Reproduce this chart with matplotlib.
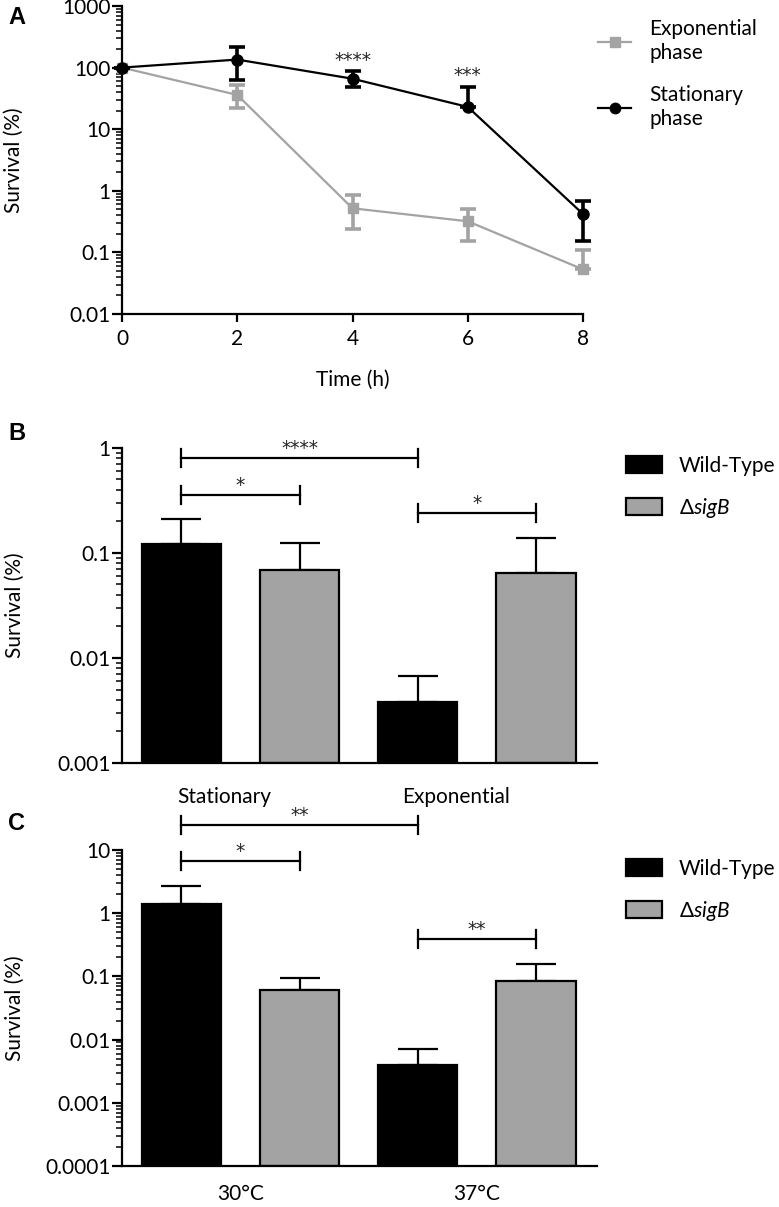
import numpy as np
import matplotlib
matplotlib.use("Agg")
from matplotlib import pyplot as plt
from matplotlib.patches import Patch
from matplotlib.lines import Line2D
from matplotlib.ticker import LogLocator, FuncFormatter, NullFormatter

plt.rcParams['font.family'] = ['Lato', 'DejaVu Sans']
plt.rcParams['font.size'] = 15
plt.rcParams['mathtext.fontset'] = 'custom'
plt.rcParams['mathtext.rm'] = 'Lato'
plt.rcParams['mathtext.it'] = 'Lato:italic'

# --- panel A: survival over time ---
time_h = [0, 2, 4, 6, 8]
stat_mean = [100, 135, 66, 23, 0.42]
stat_lo = [100, 62, 48, 23, 0.156]
stat_hi = [100, 214, 87, 49, 0.68]
expo_mean = [100, 36, 0.52, 0.32, 0.053]
expo_lo = [100, 22, 0.24, 0.156, 0.053]
expo_hi = [100, 53, 0.87, 0.51, 0.111]
stars_a = {4: '****', 6: '***'}

# --- panel B / C: bars ---
groups_b = ['Stationary', 'Exponential']
wt_b = [0.121, 0.0038]
wt_b_err = [0.209, 0.0067]
sig_b = [0.0684, 0.0645]
sig_b_err = [0.124, 0.137]
brackets_b = [(0, 2, 0.80, '****'), (0, 1, 0.355, '*'), (2, 3, 0.239, '*')]

groups_c = ['30°C', '37°C']
wt_c = [1.38, 0.0039]
wt_c_err = [2.7, 0.0072]
sig_c = [0.0605, 0.084]
sig_c_err = [0.095, 0.156]
brackets_c = [(0, 2, 24.9, '**'), (0, 1, 6.7, '*'), (2, 3, 0.385, '**')]

GRAY = '#a3a3a3'
LW = 1.6
FS = 15
STAR = dict(family='DejaVu Sans', fontsize=13.5, color='#222222')

fig = plt.figure(figsize=(7.79, 12.07), dpi=100)
W, H = 779, 1207


def px_axes(left, top, right, bottom):
    return fig.add_axes([left / W, 1 - bottom / H, (right - left) / W, (bottom - top) / H])


def style_log_axis(ax):
    for s in ['top', 'right']:
        ax.spines[s].set_visible(False)
    for s in ['left', 'bottom']:
        ax.spines[s].set_linewidth(LW)
    ax.set_yscale('log')
    ax.yaxis.set_major_locator(LogLocator(base=10, numticks=20))
    ax.yaxis.set_minor_locator(LogLocator(base=10, subs=np.arange(2, 10), numticks=20))
    ax.yaxis.set_major_formatter(FuncFormatter(lambda v, p: '%g' % v))
    ax.yaxis.set_minor_formatter(NullFormatter())
    ax.tick_params(axis='y', which='major', length=7, width=LW, pad=1, labelsize=FS)
    ax.tick_params(axis='y', which='minor', length=4, width=1.1)
    ax.set_ylabel('Survival (%)', fontsize=FS)


# Panel A
axA = px_axes(122, 6, 583, 314)
style_log_axis(axA)
axA.set_ylim(0.01, 1000)
axA.set_xlim(0, 8)
axA.set_xticks(time_h)
axA.tick_params(axis='x', length=6, width=LW, pad=5, labelsize=FS)
axA.set_xlabel('Time (h)', fontsize=FS)
axA.xaxis.set_label_coords(0.5, -0.18)
axA.yaxis.set_label_coords(-0.212, 0.5)

e_lo = np.array(expo_mean) - np.array(expo_lo)
e_hi = np.array(expo_hi) - np.array(expo_mean)
axA.errorbar(time_h, expo_mean, yerr=[e_lo, e_hi], color=GRAY, marker='s', ms=7.5,
             lw=LW, elinewidth=2.6, capsize=5.5, capthick=2.6, clip_on=False, zorder=3)
s_lo = np.array(stat_mean) - np.array(stat_lo)
s_hi = np.array(stat_hi) - np.array(stat_mean)
axA.errorbar(time_h, stat_mean, yerr=[s_lo, s_hi], color='black', marker='o', ms=8,
             lw=LW, elinewidth=2.6, capsize=5.5, capthick=2.6, clip_on=False, zorder=4)
for t, s in stars_a.items():
    i = time_h.index(t)
    axA.annotate(s, (t, stat_hi[i]), xytext=(0, 1), textcoords='offset points',
                 ha='center', va='bottom', annotation_clip=False, **STAR)

legA = fig.legend(handles=[Line2D([], [], color=GRAY, marker='s', ms=7, lw=LW),
                           Line2D([], [], color='black', marker='o', ms=7.5, lw=LW)],
                  labels=['Exponential\nphase', 'Stationary\nphase'],
                  loc='upper left', bbox_to_anchor=(598 / W, 1 - 19 / H), frameon=False,
                  fontsize=FS, handlelength=1.6, handletextpad=0.85, labelspacing=1.05,
                  borderpad=0, borderaxespad=0)
for t in legA.get_texts():
    t.set_linespacing(1.25)


def bar_panel(top, bottom, ymin, ymax, wt, wt_err, sig, sig_err, groups, label_pos,
              label_pad, brackets, legend_top):
    ax = px_axes(122, top, 597, bottom)
    style_log_axis(ax)
    ax.set_ylim(ymin, ymax)
    ax.set_xlim(-0.503, 3.516)
    x = np.arange(4)
    vals = [wt[0], sig[0], wt[1], sig[1]]
    errs = [wt_err[0], sig_err[0], wt_err[1], sig_err[1]]
    cols = ['black', GRAY, 'black', GRAY]
    heights = [v - ymin for v in vals]
    ax.bar(x, heights, bottom=ymin, width=0.67, color=cols, edgecolor='black',
           linewidth=LW, zorder=2)
    up = [e - v for e, v in zip(errs, vals)]
    ax.errorbar(x, vals, yerr=[np.zeros(4), up], fmt='none', ecolor='black',
                elinewidth=LW, capsize=14.5, capthick=LW, zorder=1)
    ax.set_xticks(label_pos)
    ax.set_xticklabels(groups, fontsize=FS)
    ax.tick_params(axis='x', length=0, pad=label_pad)
    ax.yaxis.set_label_coords(-0.205, 0.5)
    for a, b, y, s in brackets:
        f = 10 ** (9 / 105 * np.log10(ymax / ymin) / 3)
        ax.plot([a, b], [y, y], color='black', lw=LW, clip_on=False)
        ax.plot([a, a], [y / f, y * f], color='black', lw=LW, clip_on=False)
        ax.plot([b, b], [y / f, y * f], color='black', lw=LW, clip_on=False)
        ax.annotate(s, ((a + b) / 2, y), xytext=(0, 0), textcoords='offset points',
                    ha='center', va='bottom', annotation_clip=False, **STAR)
    fig.legend(handles=[Patch(facecolor='black', edgecolor='black', lw=LW),
                        Patch(facecolor=GRAY, edgecolor='black', lw=LW)],
               labels=['Wild-Type', r'$\Delta\mathit{sigB}$'],
               loc='upper left', bbox_to_anchor=(626 / W, 1 - legend_top / H),
               frameon=False, fontsize=FS, handlelength=1.75, handleheight=0.9,
               handletextpad=0.8, labelspacing=0.95, borderpad=0, borderaxespad=0)
    return ax


axB = bar_panel(447.7, 763, 0.001, 1, wt_b, wt_b_err, sig_b, sig_b_err, groups_b,
                [0.36, 2.32], 17, brackets_b, 456)
axC = bar_panel(850, 1166, 0.0001, 10, wt_c, wt_c_err, sig_c, sig_c_err, groups_c,
                [0.5, 2.5], 13, brackets_c, 859)

for letter, y in [('A', 17), ('B', 434), ('C', 823)]:
    fig.text(8 / W, 1 - y / H, letter, fontsize=17, fontweight='bold',
             family='Liberation Sans', va='center', ha='left')

fig.savefig('out.png', dpi=100)
